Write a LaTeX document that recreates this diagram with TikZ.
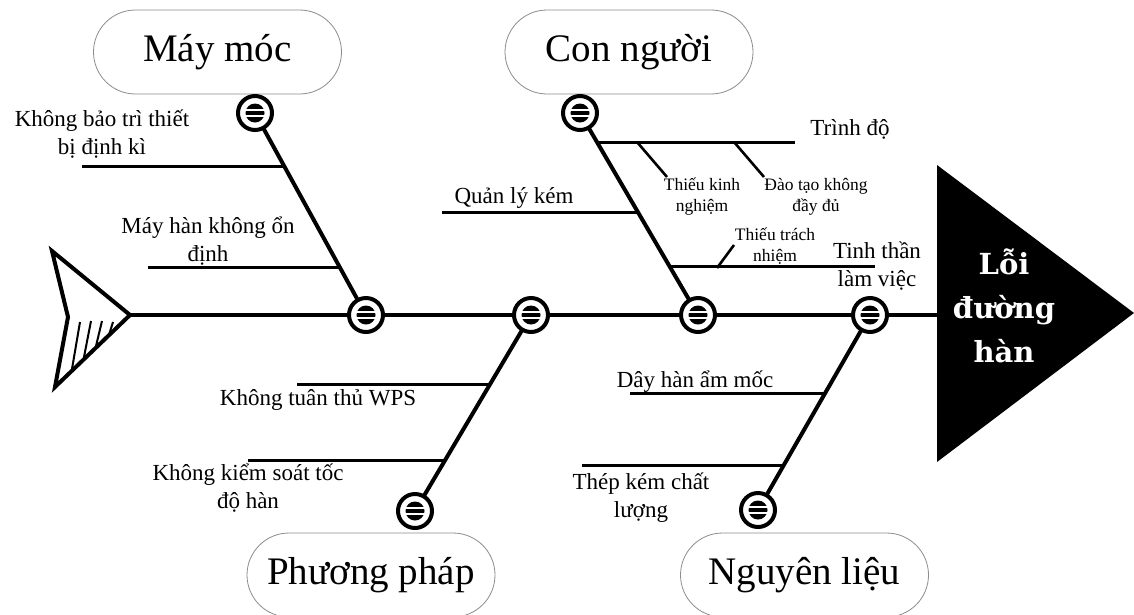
\documentclass[tikz,border=0pt]{standalone}
\usepackage{fontspec}
\setmainfont{Liberation Serif}
\newfontfamily\headfont{DejaVu Serif}
\usetikzlibrary{calc}
\tikzset{
  bone/.style={line width=4pt, line cap=round},
  rib/.style={line width=3pt},
  twig/.style={line width=2.6pt},
  hatch/.style={line width=2pt},
  catbox/.style={draw=black!45, line width=0.8pt, rounded corners=42pt, minimum width=248pt, minimum height=84pt, inner sep=0pt, font=\fontsize{39}{45}\selectfont},
  midlabel/.style={align=center, inner sep=0pt, font=\fontsize{23}{28}\selectfont},
  smalllabel/.style={align=center, inner sep=0pt, font=\fontsize{17.5}{21}\selectfont},
  icon/.style={circle, draw, line width=4pt, minimum size=34pt, inner sep=0pt, fill=white,
    path picture={
      \fill[black] (path picture bounding box.center) circle (9.5pt);
      \draw[white, line width=2.2pt] ([shift={(-11pt,3.2pt)}]path picture bounding box.center) -- ++(22pt,0pt);
      \draw[white, line width=2.2pt] ([shift={(-11pt,-3.2pt)}]path picture bounding box.center) -- ++(22pt,0pt);
    }},
}
\begin{document}
\begin{tikzpicture}[x=1pt,y=-1pt]
\clip (0,0) rectangle (1134,614);
\fill[white] (0,0) rectangle (1134,614);

% category boxes
\node[catbox] (bmay) at (217.5,52) {Máy móc};
\node[catbox] (bcon) at (629,52) {Con người};
\node[catbox] (bpp) at (371,575) {Phương pháp};
\node[catbox] (bnl) at (804.5,575) {Nguyên liệu};

% head
\coordinate (head) at (937,315);
\fill[black] (937,165) -- (1134,313) -- (937,462) -- cycle;
\node[align=center, text=white, inner sep=0pt, font=\headfont\bfseries\fontsize{29}{44}\selectfont] (effect) at (1004,306) {Lỗi\\đường\\hàn};

% tail
\coordinate (tail) at (130,315);
\draw[line width=4pt, line join=miter] (52,251) -- (tail) -- (55,387) -- (68,317) -- cycle;
\draw[hatch] (72,369) -- (80,322) (84,357) -- (91,321) (96,346) -- (102,321) (109,335) -- (113,322);

% icons
\node[icon] (s1) at (366,315) {};
\node[icon] (s2) at (531,315) {};
\node[icon] (s3) at (698,315) {};
\node[icon] (s4) at (870,315) {};
\node[icon] (m1) at (255,113) {};
\node[icon] (m2) at (580,113) {};
\node[icon] (m3) at (415,511) {};
\node[icon] (m4) at (758,510) {};

% spine
\draw[bone] (tail) -- (s1);
\draw[bone] (s1) -- (s2);
\draw[bone] (s2) -- (s3);
\draw[bone] (s3) -- (s4);
\draw[bone] (s4) -- (head);

% branches
\draw[bone] (m1) -- (s1);
\draw[bone] (m2) -- (s3);
\draw[bone] (m3) -- (s2);
\draw[bone] (m4) -- (s4);

% Máy móc ribs
\coordinate (j11) at ($(m1)!0.267!(s1)$);
\coordinate (e11) at (82,0);
\coordinate (j12) at ($(m1)!0.767!(s1)$);
\coordinate (e12) at (148,0);
\draw[rib] (j11) -- (e11 |- j11);
\draw[rib] (j12) -- (e12 |- j12);
\node[midlabel] (l11) at (102,134) {Không bảo trì thiết\\bị định kì};
\node[midlabel] (l12) at (208,241) {Máy hàn không ổn\\định};

% Con người ribs
\coordinate (j21) at ($(m2)!0.144!(s3)$);
\coordinate (e21) at (795,0);
\coordinate (j22) at ($(m2)!0.495!(s3)$);
\coordinate (e22) at (442,0);
\coordinate (j23) at ($(m2)!0.762!(s3)$);
\coordinate (e23) at (875,0);
\draw[rib] (j21) -- (e21 |- j21);
\draw[rib] (j22) -- (e22 |- j22);
\draw[rib] (j23) -- (e23 |- j23);
\node[midlabel, anchor=base] (l21) at (850,135) {Trình độ};
\node[midlabel, anchor=base] (l22) at (514,203) {Quản lý kém};
\node[midlabel] (l23) at (877,266) {Tinh thần\\làm việc};
% twigs
\coordinate (t1a) at (637,142);
\coordinate (t1b) at (667,177);
\coordinate (t2a) at (734,142);
\coordinate (t2b) at (764,177);
\coordinate (t3a) at (717,268);
\coordinate (t3b) at (734,245);
\draw[twig] (t1a) -- (t1b);
\draw[twig] (t2a) -- (t2b);
\draw[twig] (t3a) -- (t3b);
\node[smalllabel] (l211) at (702,197) {Thiếu kinh\\nghiệm};
\node[smalllabel] (l212) at (816,197) {Đào tạo không\\đầy đủ};
\node[smalllabel] (l231) at (775,246) {Thiếu trách\\nhiệm};

% Phương pháp ribs
\coordinate (j31) at ($(m3)!0.643!(s2)$);
\coordinate (e31) at (297,0);
\coordinate (j32) at ($(m3)!0.260!(s2)$);
\coordinate (e32) at (248,0);
\draw[rib] (j31) -- (e31 |- j31);
\draw[rib] (j32) -- (e32 |- j32);
\node[midlabel, anchor=base] (l31) at (318,405) {Không tuân thủ WPS};
\node[midlabel] (l32) at (248,488) {Không kiểm soát tốc\\độ hàn};

% Nguyên liệu ribs
\coordinate (j41) at ($(m4)!0.595!(s4)$);
\coordinate (e41) at (630,0);
\coordinate (j42) at ($(m4)!0.226!(s4)$);
\coordinate (e42) at (582,0);
\draw[rib] (j41) -- (e41 |- j41);
\draw[rib] (j42) -- (e42 |- j42);
\node[midlabel, anchor=base] (l41) at (695,387) {Dây hàn ẩm mốc};
\node[midlabel] (l42) at (641,498) {Thép kém chất\\lượng};
\end{tikzpicture}
\end{document}
